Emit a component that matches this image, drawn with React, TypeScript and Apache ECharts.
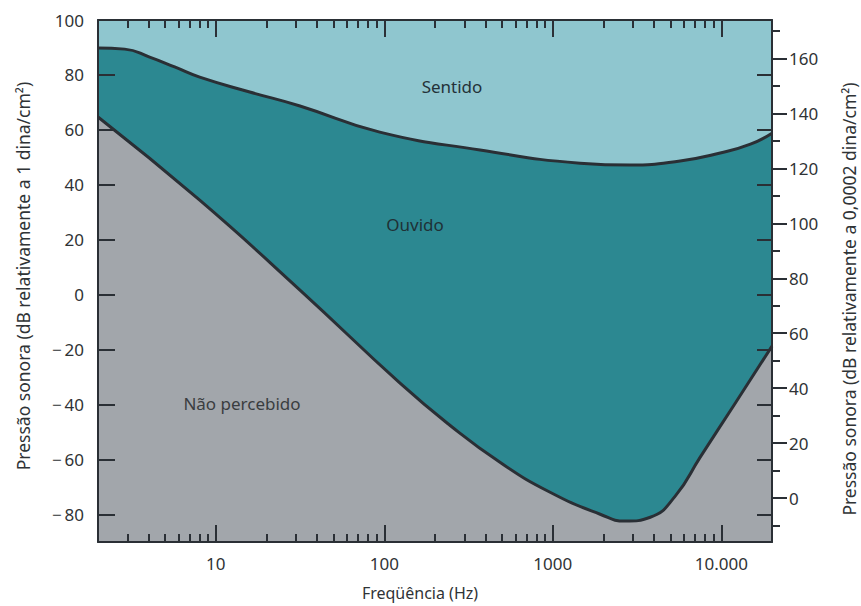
import React, { useEffect, useRef } from "react";
import * as echarts from "echarts";

// Threshold of feeling (upper boundary), dB re 1 dina/cm²
const upperFreq = [2, 2.88, 4.05, 5.7, 8.03, 15.9, 31.6, 94, 370, 1450, 2880, 5700, 9860, 14900, 20000];
const upperDb = [89.8, 89.4, 86.5, 82.9, 79.2, 73.8, 68.7, 59.2, 52.7, 47.9, 47.2, 48.7, 51.6, 54.8, 58.8];

// Threshold of hearing (lower boundary)
const lowerFreq = [2, 8.03, 31.6, 124, 245, 486, 964, 1910, 2690, 3790, 5330, 7500, 12100, 20000];
const lowerDb = [64.7, 34.4, 1.7, -32.2, -47.5, -61, -71.9, -79.9, -82.4, -81.0, -73.3, -59.1, -39.5, -18.7];

const xMajorTicks = [10, 100, 1000, 10000];
const xMinorTicks = [3, 4, 5, 6, 7, 8, 9, 20, 30, 40, 50, 60, 70, 80, 90, 200, 300, 400, 500, 600, 700, 800, 900, 2000, 3000, 4000, 5000, 6000, 7000, 8000, 9000];
const leftTicks = [-80, -60, -40, -20, 0, 20, 40, 60, 80];
const leftLabels = [-80, -60, -40, -20, 0, 20, 40, 60, 80, 100];
const rightMajor = [0, 20, 40, 60, 80, 100, 120, 140, 160];
const rightMinor = [-10, 10, 30, 50, 70, 90, 110, 130, 150, 170];

const F_MIN = 2;
const F_MAX = 20000;
const LEFT_MIN = -90;
const LEFT_MAX = 100;
const OFFSET = 74; // 20·log10(1 / 0.0002)

const FONT = "Noto Sans";
const TXT = "#2f3336";
const LINE = "#2a2f35";

export default function App() {
  const ref = useRef<HTMLDivElement>(null);
  useEffect(() => {
    if (!ref.current) return;
    const chart = echarts.init(ref.current, undefined, { renderer: "svg" });
    const axisLine = { show: true, onZero: false, lineStyle: { color: LINE, width: 2 } };
    const noLine = { show: false, onZero: false };
    const lg = (v: number) => Math.log10(v);
    // decade axes used only for ticks/labels (linear in log10 of frequency)
    const xDec = { type: "value", min: lg(F_MIN), max: lg(F_MAX), splitLine: { show: false }, z: 10 };
    const yBase = { type: "value", splitLine: { show: false }, z: 10 };
    const tickStyle = { color: LINE, width: 2 };
    const topTickStyle = { color: "#2b3037", width: 2 };
    const majorLog = xMajorTicks.map(lg);
    const minorLog = xMinorTicks.map(lg);
    const option: any = {
      animation: false,
      grid: { left: 98, right: 89, top: 20, bottom: 64, show: true, backgroundColor: "#8fc6cf", borderWidth: 0 },
      xAxis: [
        {
          type: "log", logBase: 10, min: F_MIN, max: F_MAX, position: "bottom",
          axisLine: noLine, axisTick: { show: false }, axisLabel: { show: false }, splitLine: { show: false },
        },
        {
          ...xDec, position: "bottom", axisLine,
          axisTick: { show: true, inside: true, length: 17, lineStyle: tickStyle, customValues: majorLog },
          axisLabel: {
            show: true, customValues: majorLog, margin: 13, fontSize: 17, fontFamily: FONT, color: TXT,
            formatter: (v: number) => {
              const n = Math.round(Math.pow(10, v));
              return n >= 10000 ? "10.000" : String(n);
            },
          },
        },
        {
          ...xDec, position: "bottom", axisLine: noLine,
          axisTick: { show: true, inside: true, length: 8, lineStyle: tickStyle, customValues: minorLog },
          axisLabel: { show: false },
        },
        {
          ...xDec, position: "top", z: 20, axisLine,
          axisTick: { show: true, inside: true, length: 17, lineStyle: topTickStyle, customValues: majorLog },
          axisLabel: { show: false },
        },
        {
          ...xDec, position: "top", z: 20, axisLine: noLine,
          axisTick: { show: true, inside: true, length: 8, lineStyle: topTickStyle, customValues: minorLog },
          axisLabel: { show: false },
        },
      ],
      yAxis: [
        {
          ...yBase, position: "left", min: LEFT_MIN, max: LEFT_MAX, axisLine,
          axisTick: { show: true, inside: true, length: 17, lineStyle: tickStyle, customValues: leftTicks },
          axisLabel: {
            show: true, customValues: leftLabels, margin: 14, fontSize: 17, fontFamily: FONT, color: TXT,
            formatter: (v: number) => (v < 0 ? "\u2212\u2009" + Math.abs(v) : String(v)),
          },
        },
        {
          ...yBase, position: "right", min: LEFT_MIN + OFFSET, max: LEFT_MAX + OFFSET, axisLine,
          axisTick: { show: true, inside: false, length: 15, lineStyle: tickStyle, customValues: rightMajor },
          axisLabel: { show: true, customValues: rightMajor, margin: 17, fontSize: 17, fontFamily: FONT, color: TXT },
        },
        {
          ...yBase, position: "right", min: LEFT_MIN + OFFSET, max: LEFT_MAX + OFFSET, axisLine: noLine,
          axisTick: { show: true, inside: false, length: 8, lineStyle: tickStyle, customValues: rightMinor },
          axisLabel: { show: false },
        },
        {
          ...yBase, position: "right", min: LEFT_MIN, max: LEFT_MAX, axisLine: noLine,
          axisTick: { show: true, inside: true, length: 15, lineStyle: tickStyle, customValues: leftTicks },
          axisLabel: { show: false },
        },
      ],
      series: [
        {
          name: "Limiar da sensação",
          type: "line",
          xAxisIndex: 0,
          yAxisIndex: 0,
          smooth: 0.5,
          symbol: "none",
          data: upperFreq.map((f, i) => [f, upperDb[i]]),
          lineStyle: { color: LINE, width: 3 },
          areaStyle: { color: "#2c8891", opacity: 1, origin: "start" },
          z: 2,
        },
        {
          name: "Limiar da audição",
          type: "line",
          xAxisIndex: 0,
          yAxisIndex: 0,
          smooth: 0.5,
          symbol: "none",
          data: lowerFreq.map((f, i) => [f, lowerDb[i]]),
          lineStyle: { color: LINE, width: 3 },
          areaStyle: { color: "#a2a6ab", opacity: 1, origin: "start" },
          z: 3,
        },
      ],
      graphic: [
        { type: "text", x: 452, y: 86, style: { text: "Sentido", fontSize: 17, fontFamily: FONT, fill: "#243238", align: "center", verticalAlign: "middle" }, z: 20 },
        { type: "text", x: 415, y: 224, style: { text: "Ouvido", fontSize: 17, fontFamily: FONT, fill: "#1f3136", align: "center", verticalAlign: "middle" }, z: 20 },
        { type: "text", x: 242, y: 403, style: { text: "Não percebido", fontSize: 17, fontFamily: FONT, fill: "#3a3d40", align: "center", verticalAlign: "middle" }, z: 20 },
        { type: "text", x: 420, y: 593, style: { text: "Freqüência (Hz)", fontSize: 16, fontFamily: FONT, fill: TXT, align: "center", verticalAlign: "middle" }, z: 20 },
        { type: "text", x: 23, y: 276, rotation: Math.PI / 2, style: { text: "Pressão sonora (dB relativamente a 1 dina/cm²)", fontSize: 17.5, fontFamily: FONT, fill: TXT, align: "center", verticalAlign: "middle" }, z: 20 },
        { type: "text", x: 849, y: 299, rotation: Math.PI / 2, style: { text: "Pressão sonora (dB relativamente a 0,0002 dina/cm²)", fontSize: 17.5, fontFamily: FONT, fill: TXT, align: "center", verticalAlign: "middle" }, z: 20 },
      ],
    };
    chart.setOption(option);
    return () => chart.dispose();
  }, []);
  return (
    <div
      ref={ref}
      style={{ position: "fixed", left: 0, top: 0, width: 861, height: 606, background: "#ffffff" }}
    />
  );
}
